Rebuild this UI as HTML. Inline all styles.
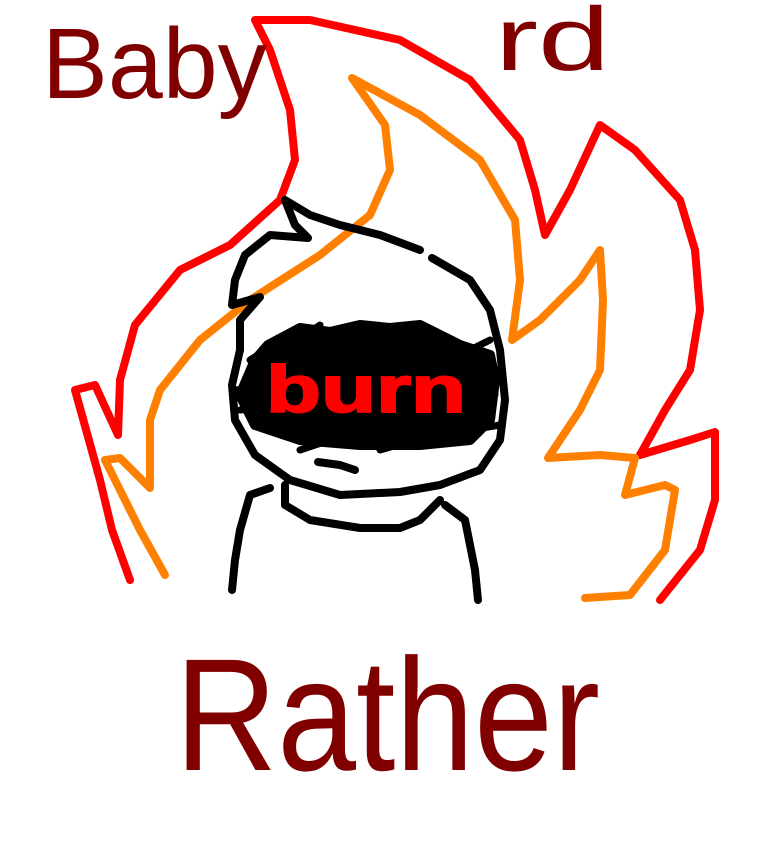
<!DOCTYPE html>
<html><head><meta charset="utf-8"><style>html,body{margin:0;padding:0;background:#fff}svg{display:block}</style></head>
<body>
<svg width="768" height="866" viewBox="0 0 768 866" xmlns="http://www.w3.org/2000/svg">
<rect width="768" height="866" fill="#fff"/>
<g fill="none" stroke-linecap="round" stroke-linejoin="round">
<path stroke="#ff0000" stroke-width="8" d="M130,580 L112,530 L100,480 L75,390 L95,385 L118,435 L120,380 L135,325 L180,270 L230,245 L280,200 L295,160 L290,110 L270,50 L255,20 L310,20 L400,40 L470,80 L520,140 L535,190 L545,235 L570,190 L600,125 L635,150 L680,200 L695,250 L700,310 L690,370 L665,410 L640,455 L690,440 L715,432 L715,500 L700,550 L660,600"/>
<path stroke="#ff8000" stroke-width="8" d="M165,575 L140,530 L120,490 L105,460 L120,458 L150,488 L150,420 L160,390 L200,340 L250,300 L320,255 L370,215 L390,170 L385,125 L352,78 L420,115 L480,160 L515,220 L520,280 L512,340 L540,320 L580,280 L600,250 L603,300 L600,370 L580,410 L548,458 L600,455 L635,458 L625,495 L665,485 L675,490 L665,550 L630,595 L585,598"/>
<g stroke="#000" stroke-width="8">
<path d="M432,258 L470,280 L490,310 L500,350 L505,400 L500,440 L480,470 L440,485 L400,492 L340,495 L290,480 L255,455 L235,420 L232,385 L240,350 L240,320 L260,297 L232,305 L235,280 L245,255 L270,235 L308,238 L295,225 L285,200 L310,215 L340,225 L380,235 L420,250"/>
<path d="M285,485 L285,505 L310,520 L360,528 L400,528 L420,520 L440,500"/>
<path d="M270,488 L250,495 L240,530 L235,560 L232,590"/>
<path d="M445,505 L465,520 L475,570 L478,600"/>
<path d="M318,462 L340,465 L355,470"/>
</g>
<path fill="#000" stroke="#000" stroke-width="10" d="M268,345 L300,328 L330,332 L360,325 L390,328 L420,325 L460,345 L490,355 L495,380 L490,420 L470,440 L420,445 L360,445 L300,440 L255,425 L240,395 L255,360 Z"/>
<g stroke="#000" stroke-width="7">
<path d="M235,390 L500,370 M240,410 L495,395 M290,335 L250,360 M320,325 L290,345 M470,350 L490,340 M470,430 L500,425 M300,450 L360,430 M380,450 L450,430"/>
</g>
</g>
<text x="266" y="412" font-family="Liberation Sans, sans-serif" font-weight="bold" font-size="66" fill="#ff0000" stroke="#ff0000" stroke-width="2" textLength="200" lengthAdjust="spacingAndGlyphs">burn</text>
<text x="42" y="98" font-family="Liberation Sans, sans-serif" font-size="100" fill="#800000" textLength="225" lengthAdjust="spacingAndGlyphs">Baby</text>
<text x="495" y="70" font-family="Liberation Sans, sans-serif" font-size="90" fill="#800000" textLength="115" lengthAdjust="spacingAndGlyphs">rd</text>
<text x="175" y="770" font-family="Liberation Sans, sans-serif" font-size="160" fill="#800000" textLength="425" lengthAdjust="spacingAndGlyphs">Rather</text>
</svg>
</body></html>
